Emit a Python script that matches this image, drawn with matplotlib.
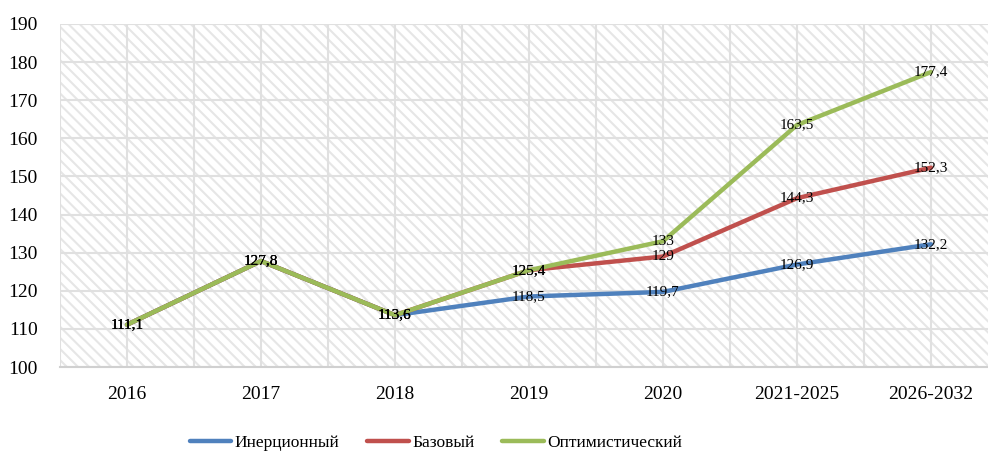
import matplotlib
matplotlib.use("Agg")
import matplotlib.pyplot as plt
from matplotlib.patches import Rectangle

plt.rcParams['font.family'] = ['Liberation Serif', 'DejaVu Serif']
plt.rcParams['hatch.linewidth'] = 1.5

categories = ['2016', '2017', '2018', '2019', '2020', '2021-2025', '2026-2032']
inertial = [111.1, 127.8, 113.6, 118.5, 119.7, 126.9, 132.2]
basic = [111.1, 127.8, 113.6, 125.4, 129, 144.3, 152.3]
optimistic = [111.1, 127.8, 113.6, 125.4, 133, 163.5, 177.4]
series_names = ['Инерционный', 'Базовый', 'Оптимистический']
colors = ['#4F81BD', '#C0504D', '#9BBB59']

fig = plt.figure(figsize=(9.88, 4.53), dpi=100)
ax = fig.add_axes([60 / 988, 86 / 453, 938 / 988, 343 / 453])

# hatched background
ax.add_patch(Rectangle((0, 0), 1, 1, transform=ax.transAxes, facecolor='white',
                       edgecolor='#e6e6e6', lw=0, hatch='\\\\\\', zorder=0.1))

x = list(range(len(categories)))
for vals, name, c in zip([inertial, basic, optimistic], series_names, colors):
    ax.plot(x, vals, color=c, lw=3.2, label=name, solid_capstyle='round', zorder=3)
for vals in [inertial, basic, optimistic]:
    for xi, v in zip(x, vals):
        ax.text(xi, v, f"{v:g}".replace('.', ','), ha='center', va='center',
                fontsize=11, color='black', zorder=5)

ax.set_xlim(-0.5, len(categories) - 0.5)
ax.set_ylim(100, 190)
ax.set_yticks(range(100, 191, 10))
ax.set_xticks(x)
ax.set_xticklabels(categories)
ax.set_xticks([i - 0.5 for i in range(len(categories) + 1)], minor=True)
ax.tick_params(axis='both', which='both', length=0, labelsize=14)
ax.tick_params(axis='y', pad=16)
ax.tick_params(axis='x', pad=14)
ax.set_axisbelow(True)
ax.grid(True, which='both', color='#e0e0e0', lw=1.5)
for s in ['top', 'right', 'left']:
    ax.spines[s].set_visible(False)
ax.spines['bottom'].set_color('#d0d0d0')
ax.spines['bottom'].set_linewidth(1.5)

fig.legend(loc='center', bbox_to_anchor=(436 / 988, 10 / 453), ncol=3, frameon=False,
           fontsize=12.5, handlelength=2.4, handletextpad=0.2, columnspacing=1.6)

fig.savefig('out.png', dpi=100)
